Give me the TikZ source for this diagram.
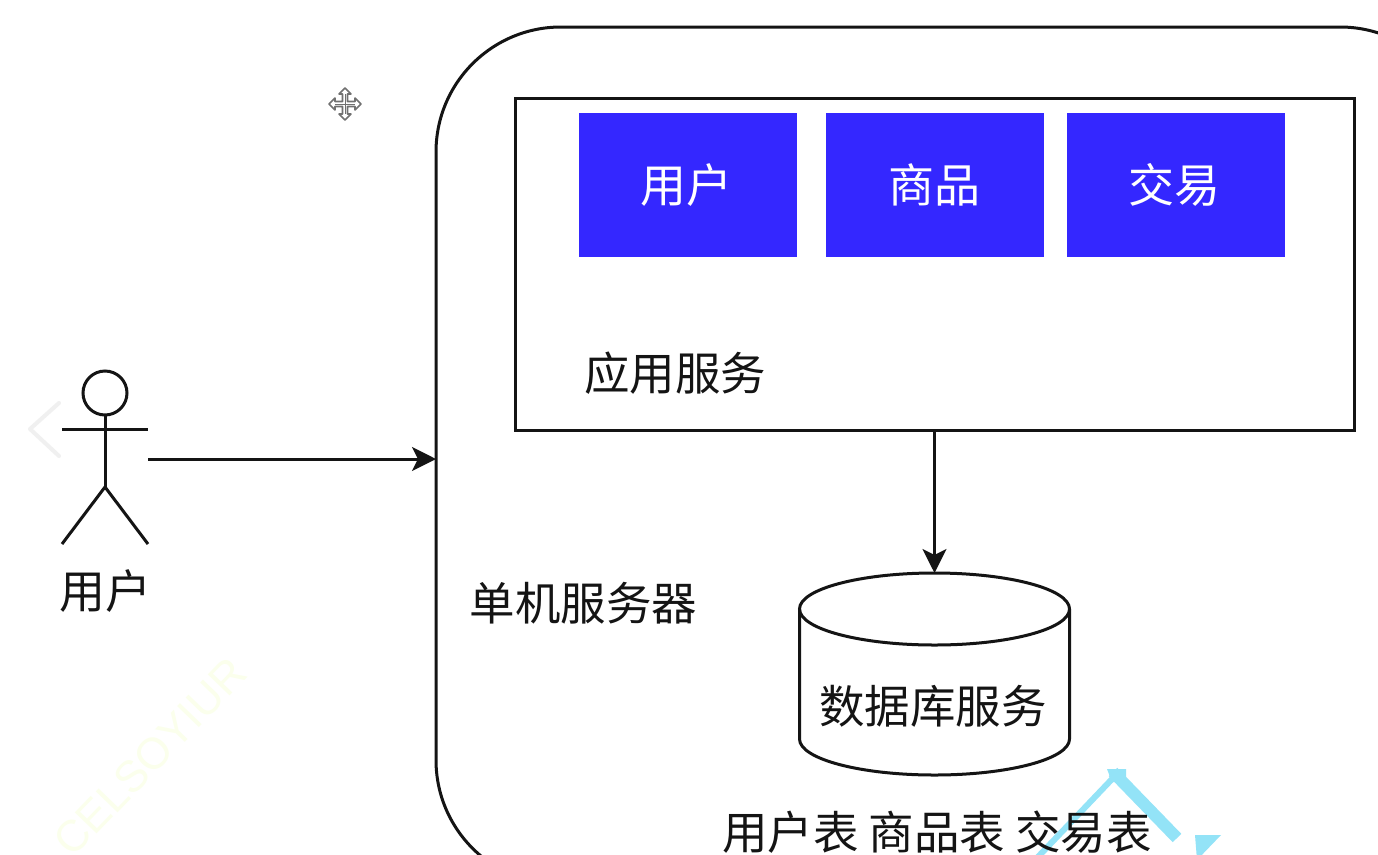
\documentclass[tikz,border=0pt]{standalone}
\usepackage{fontspec}
\setmainfont{Noto Sans CJK SC}
\newfontfamily\wmfont{Liberation Sans}
\usetikzlibrary{arrows.meta}
\definecolor{bluebox}{HTML}{3427FF}
\definecolor{inkline}{HTML}{141414}
\definecolor{logocyan}{HTML}{93E3F7}
\definecolor{wmcol}{HTML}{FBFFEC}
\definecolor{chevcol}{HTML}{F0F0F0}
\definecolor{curscol}{HTML}{707070}
\tikzset{
  line/.style={draw=inkline,line width=3pt},
  link/.style={line,-{Stealth[length=24pt,width=24pt,inset=6pt]}},
  module/.style={fill=bluebox,text=white,minimum width=218pt,minimum height=144pt,inner sep=0pt,font=\fontsize{46}{46}\selectfont},
  label/.style={text=inkline,inner sep=0pt,font=\fontsize{45.5}{46}\selectfont},
  ghost/.style={inner sep=0pt,outer sep=0pt},
  cursorline/.style={draw=curscol,line width=1.6pt,fill=white,line join=round},
}
\begin{document}
\begin{tikzpicture}[x=1pt,y=-1pt]
\useasboundingbox (0,0) rectangle (1378,854);
\fill[white] (0,0) rectangle (1378,854);
\clip (0,0) rectangle (1378,854);

% faint background marks
\node[text=wmcol,rotate=46,font=\wmfont\fontsize{44}{44}\selectfont,ghost] at (150,757) {CELSOYIUR};
\draw[chevcol,line width=4pt,line cap=round,line join=round] (59,403) -- (30,429) -- (59,456);

% logo fragment
\draw[logocyan,line width=6pt] (1113,778) -- (1035,860);
\draw[logocyan,line width=12pt] (1113,772) -- (1177,838);
\fill[logocyan] (1107,769) -- (1126,769) -- (1126,782) -- (1112,782) -- cycle;
\fill[logocyan] (1195,835) -- (1221,835) -- (1197,860) -- cycle;

% server and application boxes
\node[line,ghost,rounded corners=125pt,minimum width=1029pt,minimum height=858pt] (server) at (950.5,456) {};
\node[line,ghost,minimum width=839pt,minimum height=332pt] (app) at (934.5,264) {};
\node[module] (m1) at (688,185) {\hspace{-3pt}用户};
\node[module] (m2) at (934.5,185) {商品};
\node[module] (m3) at (1175.5,185) {\hspace{-3pt}交易};
\node[label] (applabel) at (675,373) {应用服务};
\node[label] (serverlabel) at (583.5,603) {单机服务器};

% database
\node[ghost,minimum width=270pt,minimum height=202pt] (db) at (934.5,674) {};
\draw[line,fill=white] ([yshift=-36pt]db.north west)
  arc[x radius=135,y radius=36,start angle=180,end angle=360]
  arc[x radius=135,y radius=36,start angle=0,end angle=180] -- cycle;
\draw[line] ([yshift=-36pt]db.north west) -- ([yshift=36pt]db.south west)
  arc[x radius=135,y radius=36,start angle=180,end angle=0]
  -- ([yshift=-36pt]db.north east);
\node[label] (dblabel) at (933,706) {数据库服务};
\node[label] (tables) at (937,832) {用户表 商品表 交易表};

% actor
\node[ghost,minimum width=86pt,minimum height=170pt] (actor) at (105,459) {};
\node[line,ghost,circle,minimum size=44pt] (head) at (105,393) {};
\coordinate (hip) at (105,487);
\coordinate (armL) at (62,429);
\coordinate (armR) at (148,429);
\coordinate (footL) at (62,544);
\coordinate (footR) at (148,544);
\draw[line] (head.south) -- (hip);
\draw[line] (armL) -- (armR);
\draw[line] (footL) -- (hip) -- (footR);
\node[label,font=\fontsize{46}{46}\selectfont] (actorlabel) at (105,591) {用户};

% connectors
\draw[link] (actor.east) -- (actor.east -| server.west);
\draw[link] (app.south) -- (db.north);

% move cursor icon
\begin{scope}[shift={(345,104)}]
  \draw[cursorline] (-2.5,-9) -- (-2.5,-10) -- (-6,-10) -- (0,-16) -- (6,-10) -- (2.5,-10) -- (2.5,-2.5)
    -- (10,-2.5) -- (10,-6) -- (16,0) -- (10,6) -- (10,2.5) -- (2.5,2.5)
    -- (2.5,10) -- (6,10) -- (0,16) -- (-6,10) -- (-2.5,10) -- (-2.5,2.5)
    -- (-10,2.5) -- (-10,6) -- (-16,0) -- (-10,-6) -- (-10,-2.5) -- (-2.5,-2.5) -- cycle;
  \draw[curscol,line width=1pt] (0,-10) -- (0,10) (-10,0) -- (10,0);
\end{scope}
\end{tikzpicture}
\end{document}
